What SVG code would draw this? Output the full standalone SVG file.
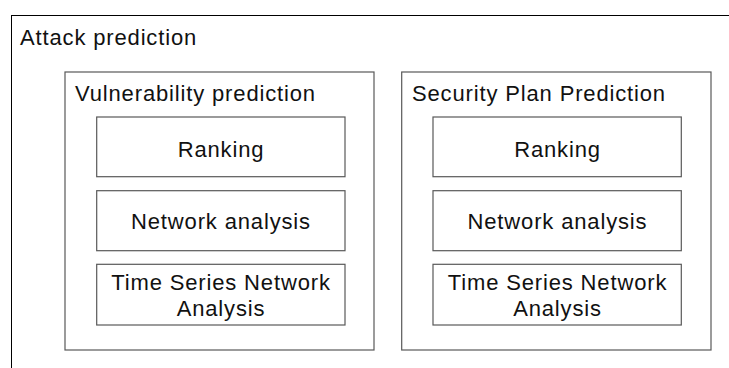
<svg xmlns="http://www.w3.org/2000/svg" width="729" height="368" viewBox="0 0 729 368">
  <style>
    .frame { fill: #ffffff; stroke: #000000; stroke-width: 1; }
    .box { fill: #ffffff; stroke: #595959; stroke-width: 1.2; }
    .label { font-family: "Liberation Sans", Arial, sans-serif; font-size: 22px; letter-spacing: 0.85px; fill: #111111; }
    .mid { text-anchor: middle; }
  </style>
  <rect x="0" y="0" width="729" height="368" fill="#ffffff"/>

  <g id="attack-prediction">
    <rect class="frame" x="11.5" y="15.5" width="730" height="360"/>
    <text class="label" x="20" y="44.5">Attack prediction</text>
  </g>

  <g id="vulnerability-prediction">
    <rect class="box" x="65" y="72" width="309" height="278"/>
    <text class="label" x="75" y="100.5">Vulnerability prediction</text>
  </g>
  <g id="vp-ranking">
    <rect class="box" x="96.7" y="117" width="248.3" height="59.7"/>
    <text class="label mid" x="221" y="156.5">Ranking</text>
  </g>
  <g id="vp-network-analysis">
    <rect class="box" x="96.7" y="190.7" width="248.3" height="60"/>
    <text class="label mid" x="221" y="228.5">Network analysis</text>
  </g>
  <g id="vp-time-series">
    <rect class="box" x="96.7" y="264.3" width="248.3" height="60.7"/>
    <text class="label mid" x="221" y="290">Time Series Network</text>
    <text class="label mid" x="221" y="316">Analysis</text>
  </g>

  <g id="security-plan-prediction">
    <rect class="box" x="401.7" y="72" width="309.3" height="278"/>
    <text class="label" x="412" y="100.5">Security Plan Prediction</text>
  </g>
  <g id="sp-ranking">
    <rect class="box" x="433" y="117" width="248.3" height="59.7"/>
    <text class="label mid" x="557.5" y="156.5">Ranking</text>
  </g>
  <g id="sp-network-analysis">
    <rect class="box" x="433" y="190.7" width="248.3" height="60"/>
    <text class="label mid" x="557.5" y="228.5">Network analysis</text>
  </g>
  <g id="sp-time-series">
    <rect class="box" x="433" y="264.3" width="248.3" height="60.7"/>
    <text class="label mid" x="557.5" y="290">Time Series Network</text>
    <text class="label mid" x="557.5" y="316">Analysis</text>
  </g>

  <g id="connectors"></g>
</svg>
